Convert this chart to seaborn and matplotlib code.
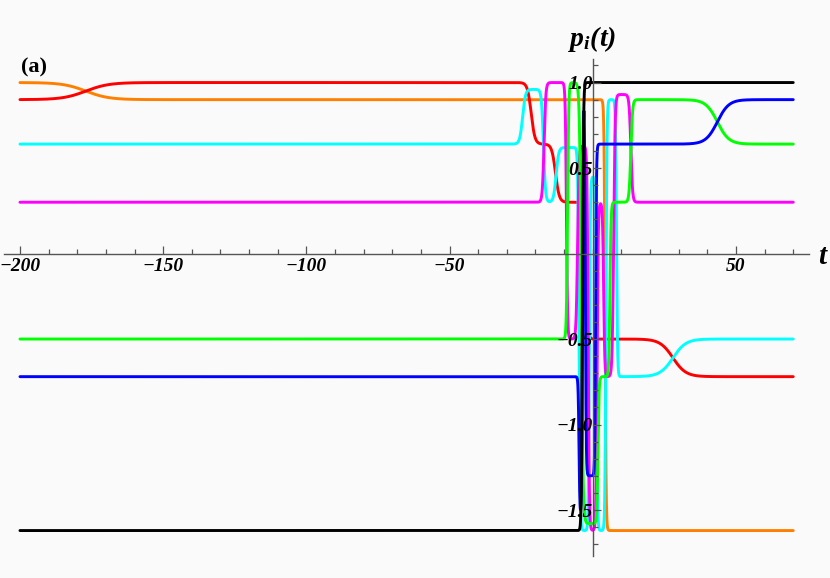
import numpy as np
import pandas as pd
import matplotlib
matplotlib.use("Agg")
import matplotlib.pyplot as plt
import seaborn as sns

# plateau levels, switch times and switch widths
orange_levels = [1.0, 0.9, -1.62]
orange_switch = [-177, 4.3]
orange_width = [8, 0.35]

red_levels = [0.9, 1.0, 0.64, 0.30, -0.5, -0.72]
red_switch = [-177, -21.5, -13.0, -2.2, 28]
red_width = [8, 1.3, 1.3, 0.6, 4.5]

cyan_levels = [0.64, 0.96, 0.30, 0.62, -1.62, 0.45, -1.62, 0.90, -0.72, -0.5]
cyan_switch = [-24.5, -17.2, -12.8, -4.8, -1.2, 1.3, 4.6, 8.3, 28]
cyan_width = [1.0, 0.7, 0.9, 0.4, 0.35, 0.35, 0.35, 0.35, 4.5]

magenta_levels = [0.30, 1.0, -0.5, 0.63, -1.62, 0.30, -0.72, 0.93, 0.30]
magenta_switch = [-17.0, -9.2, -5.3, -1.6, 1.5, 3.8, 7.3, 13.3]
magenta_width = [0.6, 0.4, 0.5, 0.4, 0.4, 0.4, 0.5, 0.6]

green_levels = [-0.5, 1.0, -1.58, -0.72, 0.30, 0.90, 0.64]
green_switch = [-8.8, -4.0, 1.8, 6.0, 13.3, 43.5]
green_width = [0.4, 0.6, 0.4, 0.4, 0.6, 4]

blue_levels = [-0.72, -1.55, 1.0, -1.3, 0.64, 0.90]
blue_switch = [-4.8, -3.6, -2.6, 1.0, 43.5]
blue_width = [0.3, 0.3, 0.3, 0.3, 4]

black_levels = [-1.62, 1.0]
black_switch = [-3.6]
black_width = [0.35]

curves = {
    "orange": (orange_levels, orange_switch, orange_width, "#ff8000"),
    "red": (red_levels, red_switch, red_width, "#ff0000"),
    "cyan": (cyan_levels, cyan_switch, cyan_width, "#00ffff"),
    "magenta": (magenta_levels, magenta_switch, magenta_width, "#ff00ff"),
    "green": (green_levels, green_switch, green_width, "#00ff00"),
    "blue": (blue_levels, blue_switch, blue_width, "#0000ff"),
    "black": (black_levels, black_switch, black_width, "#000000"),
}

t = np.linspace(-200, 70, 9000)
frames = []
for name, (lev, sw, wd, _) in curves.items():
    p = np.full_like(t, lev[0])
    for k in range(len(sw)):
        p += (lev[k + 1] - lev[k]) * 0.5 * (1 + np.tanh((t - sw[k]) / wd[k]))
    frames.append(pd.DataFrame({"t": t, "p": p, "curve": name}))
df = pd.concat(frames, ignore_index=True)

sns.set_style("white")
serif = "Liberation Serif"
plt.rcParams["text.color"] = "black"
plt.rcParams["mathtext.fontset"] = "custom"
plt.rcParams["mathtext.it"] = serif + ":italic:bold"
plt.rcParams["mathtext.rm"] = serif + ":italic:bold"

fig = plt.figure(figsize=(8.3, 5.78), dpi=100, facecolor="#fafafa")
ax = fig.add_axes([4.2 / 830, (578 - 556.2) / 578, (809 - 4.2) / 830, (556.2 - 58.6) / 578])
ax.set_facecolor("#fafafa")

sns.lineplot(data=df, x="t", y="p", hue="curve", hue_order=list(curves),
             palette={k: v[3] for k, v in curves.items()},
             estimator=None, sort=False, linewidth=2.1, legend=False, ax=ax)

ax.set_xlim(-205.5, 75.5)
ax.set_ylim(-1.77, 1.14)

for s in ["top", "right"]:
    ax.spines[s].set_visible(False)
ax.spines["left"].set_position(("data", 0))
ax.spines["bottom"].set_position(("data", 0))
for s in ["left", "bottom"]:
    ax.spines[s].set_color("#555555")
    ax.spines[s].set_linewidth(1.0)

tick_font = dict(fontfamily=serif, fontweight="bold", fontstyle="italic", fontsize=14, color="black")
xt = [-200, -150, -100, -50, 50]
yt = [-1.5, -1.0, -0.5, 0.5, 1.0]
ax.set_xticks(xt)
ax.set_xticklabels([f"{v}".replace("-", "\u2212") for v in xt], **tick_font)
ax.set_yticks(yt)
ax.set_yticklabels([f"{v:.1f}".replace("-", "\u2212") for v in yt], **tick_font)
ax.set_xticks(np.arange(-200, 71, 10), minor=True)
ax.set_yticks(np.arange(-1.7, 1.11, 0.1), minor=True)
ax.tick_params(which="both", bottom=True, left=True, top=False, right=False)
ax.tick_params(which="major", direction="in", length=6, width=0.9, color="#555555", labelcolor="black")
ax.tick_params(which="minor", direction="in", length=3.5, width=0.9, color="#555555")
ax.tick_params(axis="x", which="major", pad=3)
ax.tick_params(axis="y", which="major", pad=0)
ax.set_axisbelow(False)
ax.set_xlabel("")
ax.set_ylabel("")

fig.text(822 / 830, 1 - 256 / 578, "t", ha="center", va="center",
         fontfamily=serif, fontweight="bold", fontstyle="italic", fontsize=21)
fig.text(592 / 830, 1 - 39 / 578, r"$p_i(t)$", ha="center", va="center", fontsize=20)
fig.text(21 / 830, 1 - 67 / 578, "(a)", ha="left", va="center",
         fontfamily=serif, fontweight="bold", fontsize=16)

fig.savefig("out.png", dpi=100, facecolor=fig.get_facecolor())
